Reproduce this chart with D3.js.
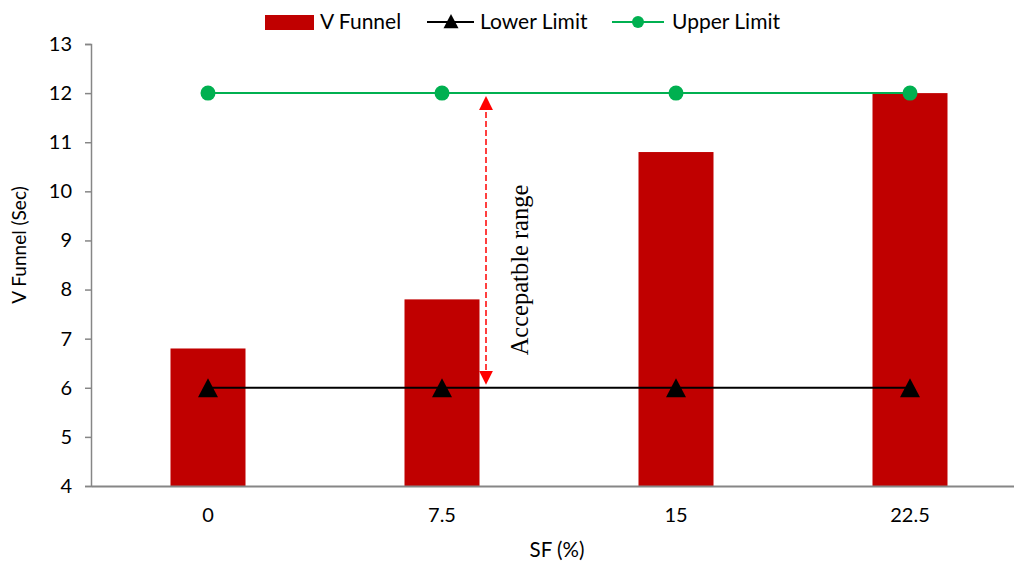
<!DOCTYPE html>
<html>
<head>
<meta charset="utf-8">
<script src="https://cdn.jsdelivr.net/npm/d3@7"></script>
<style>
  html, body { margin: 0; padding: 0; background: #fff; }
  svg { display: block; }
</style>
</head>
<body>
<svg id="chart" width="1014" height="565"></svg>
<script>
// Chart data
const categories = ["0", "7.5", "15", "22.5"];
const vFunnel = [6.8, 7.8, 10.8, 12.0];
const lowerLimit = [6, 6, 6, 6];
const upperLimit = [12, 12, 12, 12];
const yTicks = [4, 5, 6, 7, 8, 9, 10, 11, 12, 13];

const svg = d3.select("#chart");
const font = "Lato, 'Open Sans', sans-serif";
const axisColor = "#868686";

const plotLeft = 91, plotRight = 1027, plotTop = 44, plotBottom = 486;

const x = d3.scaleBand().domain(categories).range([plotLeft, plotRight]);
const y = d3.scaleLinear().domain([4, 13]).range([plotBottom, plotTop]);
const barW = 75;

// Isosceles triangle marker centred on its bounding box; size = width in px
const triangleType = {
  draw(ctx, size) {
    const w = size, h = size * 0.95;
    ctx.moveTo(0, -h / 2);
    ctx.lineTo(w / 2, h / 2);
    ctx.lineTo(-w / 2, h / 2);
    ctx.closePath();
  }
};

// Bars
svg.append("g").selectAll("rect")
  .data(vFunnel)
  .join("rect")
  .attr("x", (d, i) => x(categories[i]) + x.bandwidth() / 2 - barW / 2)
  .attr("y", d => y(d))
  .attr("width", barW)
  .attr("height", d => y(4) - y(d))
  .attr("fill", "#C00000");

// Axes
const yAxis = d3.axisLeft(y).tickValues(yTicks).tickSize(6).tickPadding(13).tickFormat(d3.format("d"));
const gy = svg.append("g").attr("transform", `translate(${plotLeft},0)`).call(yAxis);
gy.select(".domain").attr("stroke", axisColor).attr("stroke-width", 1.5);
gy.selectAll(".tick line").attr("stroke", axisColor).attr("stroke-width", 1.5);
gy.selectAll(".tick text").attr("font-family", font).attr("font-size", 20).attr("fill", "#000");

const xAxis = d3.axisBottom(x).tickSize(0).tickPadding(22);
const gx = svg.append("g").attr("transform", `translate(0,${plotBottom})`).call(xAxis);
gx.select(".domain").attr("stroke", axisColor).attr("stroke-width", 2);
gx.selectAll(".tick text").attr("font-family", font).attr("font-size", 20).attr("fill", "#000");

const cx = (d, i) => x(categories[i]) + x.bandwidth() / 2;
const line = d3.line().x(cx).y(d => y(d));

// Lower limit
svg.append("path").datum(lowerLimit)
  .attr("d", line).attr("fill", "none").attr("stroke", "#000").attr("stroke-width", 2);
const tri = d3.symbol().type(triangleType).size(20);
svg.append("g").selectAll("path")
  .data(lowerLimit).join("path")
  .attr("d", tri)
  .attr("transform", (d, i) => `translate(${cx(d, i)},${y(d)})`)
  .attr("fill", "#000");

// Upper limit
svg.append("path").datum(upperLimit)
  .attr("d", line).attr("fill", "none").attr("stroke", "#00B050").attr("stroke-width", 2);
svg.append("g").selectAll("circle")
  .data(upperLimit).join("circle")
  .attr("cx", cx).attr("cy", d => y(d)).attr("r", 7.5)
  .attr("fill", "#00B050");

// Acceptable range annotation
const ax = 486;
const defs = svg.append("defs");
defs.append("marker").attr("id", "arrowHead")
  .attr("viewBox", "0 0 10 10").attr("refX", 5).attr("refY", 5)
  .attr("markerWidth", 14).attr("markerHeight", 14).attr("markerUnits", "userSpaceOnUse")
  .attr("orient", "auto-start-reverse")
  .append("path").attr("d", "M0,0 L10,5 L0,10 Z").attr("fill", "#FF0000");
svg.append("line")
  .attr("x1", ax).attr("x2", ax)
  .attr("y1", y(12) + 10).attr("y2", y(6) - 10)
  .attr("stroke", "#FF0000").attr("stroke-width", 1.5)
  .attr("stroke-dasharray", "6,3")
  .attr("marker-start", "url(#arrowHead)")
  .attr("marker-end", "url(#arrowHead)");
svg.append("text")
  .attr("transform", `translate(528,270) rotate(-90)`)
  .attr("text-anchor", "middle")
  .attr("font-family", "'Liberation Serif', 'Times New Roman', serif")
  .attr("font-size", 24.5)
  .text("Accepatble range");

// Axis titles
svg.append("text")
  .attr("x", (plotLeft + plotRight) / 2 - 2).attr("y", 557)
  .attr("text-anchor", "middle")
  .attr("font-family", font).attr("font-size", 20.5)
  .text("SF (%)");
svg.append("text")
  .attr("transform", `translate(26,245) rotate(-90)`)
  .attr("text-anchor", "middle")
  .attr("font-family", font).attr("font-size", 19)
  .text("V Funnel (Sec)");

// Legend
const lg = svg.append("g").attr("font-family", font).attr("font-size", 21);
const ly = 22;
lg.append("rect").attr("x", 265).attr("y", ly - 7).attr("width", 49).attr("height", 15).attr("fill", "#C00000");
lg.append("text").attr("x", 320).attr("y", ly + 7).text("V Funnel");
lg.append("line").attr("x1", 427).attr("x2", 474).attr("y1", ly).attr("y2", ly).attr("stroke", "#000").attr("stroke-width", 2);
lg.append("path").attr("d", d3.symbol().type(triangleType).size(15)).attr("transform", `translate(451,${ly - 1})`).attr("fill", "#000");
lg.append("text").attr("x", 480).attr("y", ly + 7).text("Lower Limit");
lg.append("line").attr("x1", 612).attr("x2", 664).attr("y1", ly).attr("y2", ly).attr("stroke", "#00B050").attr("stroke-width", 2);
lg.append("circle").attr("cx", 638).attr("cy", ly).attr("r", 6).attr("fill", "#00B050");
lg.append("text").attr("x", 672).attr("y", ly + 7).text("Upper Limit");
</script>
</body>
</html>
